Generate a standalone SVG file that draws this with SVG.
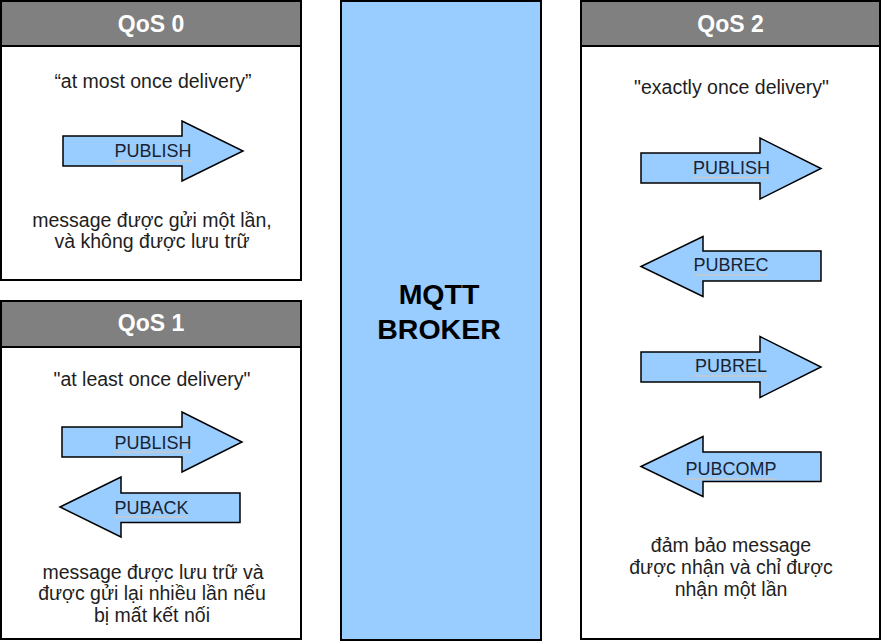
<svg xmlns="http://www.w3.org/2000/svg" width="882" height="642" viewBox="0 0 882 642">
<style>
.box{fill:#fff;stroke:#000;stroke-width:2}
.hdr{fill:#808080;stroke:#000;stroke-width:2}
.title{font-family:"Liberation Sans",Arial,sans-serif;font-size:23px;font-weight:bold;fill:#fff;text-anchor:middle}
.txt{font-family:"Liberation Sans",Arial,sans-serif;font-size:19.5px;fill:#1e1e1e;text-anchor:middle}
.arr{fill:#99ccff;stroke:#000;stroke-width:1.5;stroke-linejoin:miter}
.lbl{font-family:"Liberation Sans",Arial,sans-serif;font-size:18px;fill:#1a2230;text-anchor:middle}
.ul{stroke:#c8c8c8;stroke-width:1.5}
.broker{fill:#99ccff;stroke:#000;stroke-width:2}
.btxt{font-family:"Liberation Sans",Arial,sans-serif;font-size:28.5px;font-weight:bold;fill:#000;text-anchor:middle}
</style>
<g id="qos0">
<rect class="box" x="1" y="1" width="300" height="279"/>
<rect class="hdr" x="1" y="1" width="300" height="45"/>
<text class="title" x="151" y="31.5">QoS 0</text>
<text class="txt" x="153" y="88">“at most once delivery”</text>
<text class="txt" x="152" y="226.5">message được gửi một lần,</text>
<text class="txt" x="152" y="248">và không được lưu trữ</text>
</g>
<g id="qos1">
<rect class="box" x="1" y="301" width="300" height="338"/>
<rect class="hdr" x="1" y="301" width="300" height="46"/>
<text class="title" x="151" y="331">QoS 1</text>
<text class="txt" x="152" y="386">"at least once delivery"</text>
<text class="txt" x="153" y="578.5">message được lưu trữ và</text>
<text class="txt" x="152" y="600">được gửi lại nhiều lần nếu</text>
<text class="txt" x="152" y="621.5">bị mất kết nối</text>
</g>
<g id="qos2">
<rect class="box" x="581" y="1" width="299" height="638"/>
<rect class="hdr" x="581" y="1" width="299" height="45"/>
<text class="title" x="730.5" y="31.5">QoS 2</text>
<text class="txt" x="731.5" y="93.5">"exactly once delivery"</text>
<text class="txt" x="731" y="552">đảm bảo message</text>
<text class="txt" x="731" y="574">được nhận và chỉ được</text>
<text class="txt" x="731" y="596">nhận một lần</text>
</g>
<g id="broker">
<rect class="broker" x="341" y="1" width="200" height="639"/>
<text class="btxt" x="439" y="303.5">MQTT</text>
<text class="btxt" x="439" y="339">BROKER</text>
</g>
<g id="connectors">
<g id="q0-publish">
<path class="arr" d="M63,136 H182 V121 L243,151 L182,181 V166 H63 Z"/>
<line class="ul" x1="114" y1="161" x2="192" y2="161"/>
<text class="lbl" x="153" y="157">PUBLISH</text>
</g>
<g id="q1-publish">
<path class="arr" d="M62,427 H182 V412 L242,442 L182,472 V457 H62 Z"/>
<line class="ul" x1="114" y1="452" x2="192" y2="452"/>
<text class="lbl" x="153" y="448.5">PUBLISH</text>
</g>
<g id="q1-puback">
<path class="arr" d="M60,507 L121,477 V493 H240 V522.5 H121 V537 Z"/>
<line class="ul" x1="114" y1="517" x2="188" y2="517"/>
<text class="lbl" x="151.5" y="513.5">PUBACK</text>
</g>
<g id="q2-publish">
<path class="arr" d="M641,153 H760 V138 L821,168.5 L760,199 V183 H641 Z"/>
<line class="ul" x1="693" y1="177.5" x2="770" y2="177.5"/>
<text class="lbl" x="731.5" y="173.5">PUBLISH</text>
</g>
<g id="q2-pubrec">
<path class="arr" d="M641,266.5 L703,236.5 V251 H821 V281 H703 V296.5 Z"/>
<line class="ul" x1="694" y1="275" x2="768" y2="275"/>
<text class="lbl" x="731" y="271">PUBREC</text>
</g>
<g id="q2-pubrel">
<path class="arr" d="M641,352 H760 V336.5 L821,367 L760,397.5 V382 H641 Z"/>
<line class="ul" x1="694" y1="376" x2="768" y2="376"/>
<text class="lbl" x="731" y="372">PUBREL</text>
</g>
<g id="q2-pubcomp">
<path class="arr" d="M641,466.5 L703,436.5 V452 H821 V481.5 H703 V496.5 Z"/>
<line class="ul" x1="686" y1="479" x2="776" y2="479"/>
<text class="lbl" x="731" y="475">PUBCOMP</text>
</g>
</g>
</svg>
